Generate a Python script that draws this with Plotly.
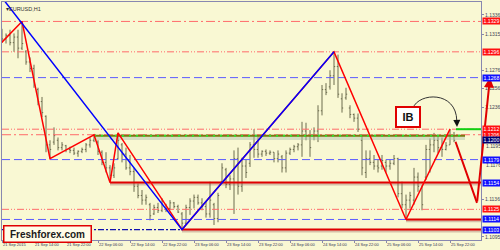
import plotly.graph_objects as go

# ---------------- data ----------------
hours = list(range(114))  # H1 bars from 21 Sep 06:00
opens = [1.1315,1.1310,1.1314,1.1306,1.1312,1.1300,1.1296,1.1285,1.1278,1.1255,
         1.1242,1.1226,1.1195,1.1198,1.1200,1.1192,1.1194,1.1190,1.1189,1.1186,
         1.1188,1.1190,1.1195,1.1200,1.1198,1.1187,1.1176,1.1170,1.1162,1.1180,
         1.1195,1.1185,1.1170,1.1166,1.1150,1.1140,1.1135,1.1130,1.1120,1.1127,
         1.1124,1.1130,1.1126,1.1132,1.1128,1.1120,1.1110,1.1127,1.1134,1.1138,
         1.1132,1.1128,1.1120,1.1130,1.1115,1.1155,1.1168,1.1152,1.1158,1.1180,
         1.1150,1.1172,1.1175,1.1195,1.1190,1.1185,1.1188,1.1186,1.1187,1.1180,
         1.1182,1.1170,1.1186,1.1190,1.1193,1.1195,1.1210,1.1205,1.1205,1.1210,
         1.1232,1.1255,1.1258,1.1270,1.1280,1.1245,1.1246,1.1235,1.1228,1.1224,
         1.1200,1.1165,1.1180,1.1176,1.1172,1.1172,1.1176,1.1172,1.1175,1.1180,
         1.1142,1.1130,1.1135,1.1135,1.1160,1.1148,1.1160,1.1190,1.1195,1.1200,
         1.1192,1.1190,1.1195,1.1205]
highs = [1.1321,1.1316,1.1320,1.1316,1.1320,1.1329,1.1298,1.1290,1.1282,1.1257,
         1.1247,1.1227,1.1200,1.1214,1.1203,1.1198,1.1195,1.1193,1.1192,1.1189,
         1.1192,1.1197,1.1203,1.1206,1.1200,1.1189,1.1187,1.1173,1.1175,1.1208,
         1.1197,1.1192,1.1184,1.1170,1.1153,1.1146,1.1141,1.1132,1.1130,1.1132,
         1.1137,1.1131,1.1135,1.1133,1.1130,1.1122,1.1130,1.1137,1.1141,1.1141,
         1.1137,1.1133,1.1155,1.1132,1.1143,1.1175,1.1170,1.1162,1.1189,1.1192,
         1.1181,1.1179,1.1198,1.1212,1.1206,1.1189,1.1190,1.1189,1.1187,1.1189,
         1.1184,1.1189,1.1192,1.1195,1.1197,1.1220,1.1219,1.1211,1.1214,1.1238,
         1.1260,1.1262,1.1276,1.1296,1.1293,1.1251,1.1257,1.1238,1.1229,1.1229,
         1.1206,1.1189,1.1189,1.1184,1.1179,1.1184,1.1179,1.1179,1.1184,1.1181,
         1.1155,1.1141,1.1144,1.1170,1.1165,1.1151,1.1195,1.1202,1.1208,1.1206,
         1.1203,1.1198,1.1212,1.1209]
lows = [1.1306,1.1305,1.1303,1.1296,1.1289,1.1298,1.1282,1.1274,1.1257,1.1238,
        1.1225,1.1187,1.1180,1.1195,1.1189,1.1189,1.1187,1.1186,1.1184,1.1182,
        1.1186,1.1187,1.1192,1.1198,1.1184,1.1173,1.1165,1.1154,1.1159,1.1179,
        1.1176,1.1168,1.1162,1.1144,1.1137,1.1130,1.1130,1.1113,1.1119,1.1121,
        1.1122,1.1122,1.1124,1.1126,1.1121,1.1103,1.1108,1.1119,1.1126,1.1130,
        1.1124,1.1116,1.1116,1.1108,1.1111,1.1153,1.1148,1.1146,1.1120,1.1141,
        1.1144,1.1159,1.1171,1.1181,1.1181,1.1182,1.1183,1.1184,1.1176,1.1176,
        1.1165,1.1165,1.1184,1.1187,1.1189,1.1182,1.1200,1.1182,1.1200,1.1198,
        1.1227,1.1249,1.1255,1.1260,1.1246,1.1230,1.1244,1.1224,1.1220,1.1209,
        1.1162,1.1159,1.1173,1.1168,1.1165,1.1168,1.1165,1.1168,1.1173,1.1138,
        1.1126,1.1114,1.1126,1.1130,1.1144,1.1124,1.1157,1.1165,1.1187,1.1186,
        1.1182,1.1189,1.1195,1.1198]
closes = [1.1310,1.1314,1.1306,1.1312,1.1300,1.1305,1.1285,1.1278,1.1260,1.1242,
          1.1230,1.1195,1.1190,1.1205,1.1192,1.1195,1.1190,1.1189,1.1186,1.1188,
          1.1190,1.1195,1.1200,1.1203,1.1188,1.1176,1.1170,1.1162,1.1170,1.1200,
          1.1185,1.1170,1.1166,1.1150,1.1140,1.1135,1.1138,1.1118,1.1127,1.1124,
          1.1134,1.1126,1.1132,1.1128,1.1122,1.1110,1.1127,1.1134,1.1138,1.1132,
          1.1128,1.1120,1.1135,1.1115,1.1140,1.1170,1.1152,1.1158,1.1180,1.1150,
          1.1172,1.1165,1.1195,1.1190,1.1185,1.1188,1.1186,1.1187,1.1180,1.1185,
          1.1170,1.1186,1.1190,1.1193,1.1195,1.1210,1.1205,1.1192,1.1210,1.1232,
          1.1255,1.1252,1.1270,1.1280,1.1250,1.1235,1.1250,1.1228,1.1224,1.1212,
          1.1170,1.1180,1.1176,1.1172,1.1170,1.1178,1.1172,1.1175,1.1180,1.1142,
          1.1130,1.1135,1.1140,1.1160,1.1150,1.1130,1.1190,1.1195,1.1200,1.1192,
          1.1190,1.1194,1.1205,1.1200]

# ZigZag (red) and larger ZigZag (blue) pivots
zz_red_x = [-1, 5, 12, 23, 27, 29, 45, 83, 101, 112]
zz_red_y = [1.1302, 1.1329, 1.1180, 1.1206, 1.1154, 1.1208, 1.1103, 1.1296, 1.1114, 1.1212]
zz_blue_x = [-2, 45, 83]
zz_blue_y = [1.1366, 1.1103, 1.1296]

# forecast arrow drawn on the chart
fc_x = [113.25, 118.75, 122.0]
fc_y = [1.1200, 1.1132, 1.1268]

# level lines
red_longdash_levels = [1.1329, 1.1206]
red_dashdot_levels = [1.1296, 1.1212, 1.1125]
blue_dash_levels = [1.1268, 1.1179]
blue_dash_short_level = 1.1114
blue_dash_short_end = 101
navy_dashdot_level = 1.1103
navy_dashdot_end = 45
thick_red_levels = [1.1154, 1.1114, 1.1103]
thick_red_starts = [27, 101, 45]
green_level = 1.1205
green_start, green_end = 23, 115.75
bright_green_level = 1.1212
bright_green_start = 113.5

# right axis labels
axis_ticks = [1.1336, 1.1315, 1.1276, 1.1256, 1.1236, 1.1136, 1.1095]
axis_ticks_near_tags = [1.1195, 1.1176]
red_tags = [1.1329, 1.1296, 1.1212, 1.1206, 1.1125]
blue_tags = [1.1268, 1.1179, 1.1154, 1.1114, 1.1103]
navy_tags = [1.1200]

time_ticks = [0, 8, 16, 24, 32, 40, 48, 56, 64, 72, 80, 88, 96, 104, 112]
time_labels = ["21 Sep 2015", "21 Sep 14:00", "21 Sep 22:00", "22 Sep 06:00", "22 Sep 14:00",
               "22 Sep 22:00", "23 Sep 06:00", "23 Sep 14:00", "23 Sep 22:00", "24 Sep 06:00",
               "24 Sep 14:00", "24 Sep 22:00", "25 Sep 06:00", "25 Sep 14:00", "25 Sep 22:00"]

X0, X1 = 0, 119.75
Y0, Y1 = 1.10917, 1.13501
FONT = "Liberation Sans, Arial"

# ---------------- figure ----------------
fig = go.Figure()

def hline(y, x0, x1, color, width, dash="solid"):
    fig.add_trace(go.Scatter(x=[x0, x1], y=[y, y], mode="lines",
                             line=dict(color=color, width=width, dash=dash),
                             hoverinfo="skip", showlegend=False))

for lv in red_longdash_levels:
    hline(lv, X0, X1, "#FF6A6A", 1, "9px,3px,2px,3px")
for lv in red_dashdot_levels:
    hline(lv, X0, X1, "#FF6A6A", 1, "7px,2px,1px,2px,1px,2px")
for lv in blue_dash_levels:
    hline(lv, X0, X1, "#5A5AFF", 1, "8px,4px")
hline(blue_dash_short_level, X0, blue_dash_short_end, "#5A5AFF", 1, "8px,4px")
hline(navy_dashdot_level, X0, navy_dashdot_end, "#1010B0", 1.3, "6px,2px,2px,2px")

# green level with shadow
hline(green_level - 0.00025, green_start, green_end, "rgba(170,190,170,0.45)", 4)
hline(green_level, green_start, green_end, "#7A7A10", 2)
hline(green_level, green_start, green_end, "#30E030", 2, "2px,5px")
hline(bright_green_level, bright_green_start, X1, "#10D010", 2)

# price bars
fig.add_trace(go.Ohlc(x=hours, open=opens, high=highs, low=lows, close=closes,
                      increasing=dict(line=dict(color="#6C6C4E", width=1)),
                      decreasing=dict(line=dict(color="#6C6C4E", width=1)),
                      tickwidth=0.3, hoverinfo="skip", showlegend=False))

# thick red support / resistance lines with shadow
for lv, st in zip(thick_red_levels, thick_red_starts):
    hline(lv - 0.00014, st, X1, "rgba(150,90,90,0.35)", 3)
    hline(lv, st, X1, "#E00000", 2)

# zigzags
fig.add_trace(go.Scatter(x=zz_red_x, y=zz_red_y, mode="lines",
                         line=dict(color="#FF0000", width=1.5), hoverinfo="skip", showlegend=False))
fig.add_trace(go.Scatter(x=zz_blue_x, y=zz_blue_y, mode="lines",
                         line=dict(color="#0000FF", width=1.5), hoverinfo="skip", showlegend=False))

annotations = []
# forecast arrow
annotations.append(dict(x=fc_x[1], y=fc_y[1], ax=fc_x[0], ay=fc_y[0], xref="x", yref="y",
                        axref="x", ayref="y", text="", showarrow=True, arrowhead=0,
                        arrowwidth=2, arrowcolor="#E00000"))
annotations.append(dict(x=fc_x[2], y=fc_y[2], ax=fc_x[1], ay=fc_y[1], xref="x", yref="y",
                        axref="x", ayref="y", text="", showarrow=True, arrowhead=2,
                        arrowsize=1, arrowwidth=2, arrowcolor="#E00000"))

# IB box and curved arrow
annotations.append(dict(x=101.5, y=1.12253, xref="x", yref="y", text="<b>IB</b>",
                        showarrow=False, font=dict(family=FONT, size=11, color="#111"),
                        bgcolor="#FFFFFF", bordercolor="#E00000", borderwidth=2, borderpad=2,
                        width=18, height=14))
fig.add_shape(type="path", xref="x", yref="y",
              path="M 102.75,1.1235 C 104.2,1.1252 113.6,1.1254 113.7,1.1221",
              line=dict(color="#333333", width=1))
annotations.append(dict(x=113.75, y=1.12145, ax=113.7, ay=1.1222, xref="x", yref="y",
                        axref="x", ayref="y", text="", showarrow=True, arrowhead=2,
                        arrowsize=1, arrowwidth=1.4, arrowcolor="#111111"))

# grey axis labels sitting just under a tag
for v, dy in zip(axis_ticks_near_tags, [-1.5, -3]):
    annotations.append(dict(x=1, y=v, xref="paper", yref="y", xanchor="left", yanchor="middle",
                            xshift=3, yshift=dy, text=f"{v:.4f}", showarrow=False,
                            font=dict(family=FONT, size=5, color="#444455")))

# right axis tags
def tag(val, bg):
    annotations.append(dict(x=1, y=val, xref="paper", yref="y", xanchor="left", yanchor="middle",
                            xshift=1, text=f"{val:.4f}", showarrow=False,
                            font=dict(family=FONT, size=5.2, color="#FFFFFF"),
                            bgcolor=bg, borderpad=0, height=5.5, width=17))
for v in red_tags:
    tag(v, "#FF1010")
for v in blue_tags:
    tag(v, "#1010FF")
for v in navy_tags:
    tag(v, "#000070")

# title
annotations.append(dict(x=0, y=1, xref="paper", yref="paper", xanchor="left", yanchor="top",
                        xshift=2, yshift=-2, text="▾EURUSD,H1", showarrow=False,
                        font=dict(family=FONT, size=5.5, color="#333333")))
# watermark box
annotations.append(dict(x=0, y=0, xref="paper", yref="paper", xanchor="left", yanchor="bottom",
                        xshift=1, yshift=-3, text="<b>Freshforex.com</b>", showarrow=False,
                        font=dict(family=FONT, size=10, color="#1A1A1A"),
                        bgcolor="#FFFCE8", bordercolor="#E00000", borderwidth=1.5, borderpad=2,
                        width=82))

fig.update_layout(
    width=500, height=250,
    margin=dict(l=2, r=19, t=2, b=10, autoexpand=False),
    paper_bgcolor="#F9F8D3", plot_bgcolor="#F9F8D3",
    annotations=annotations,
    xaxis=dict(range=[X0, X1], showgrid=False, zeroline=False, rangeslider=dict(visible=False),
               tickvals=time_ticks, ticktext=time_labels, ticks="outside", ticklen=2,
               tickcolor="#8888AA", ticklabelposition="outside right", tickangle=0,
               automargin=False,
               tickfont=dict(family=FONT, size=4, color="#333355"),
               showline=True, mirror=True, linecolor="#8888B0", linewidth=1, fixedrange=True),
    yaxis=dict(range=[Y0, Y1], side="right", showgrid=False, zeroline=False,
               tickvals=axis_ticks, ticktext=[f"{v:.4f}" for v in axis_ticks],
               ticks="outside", ticklen=2, tickcolor="#8888AA", automargin=False,
               tickfont=dict(family=FONT, size=5, color="#444455"),
               showline=True, mirror=True, linecolor="#8888B0", linewidth=1, fixedrange=True),
)

fig.write_html("out.html")
